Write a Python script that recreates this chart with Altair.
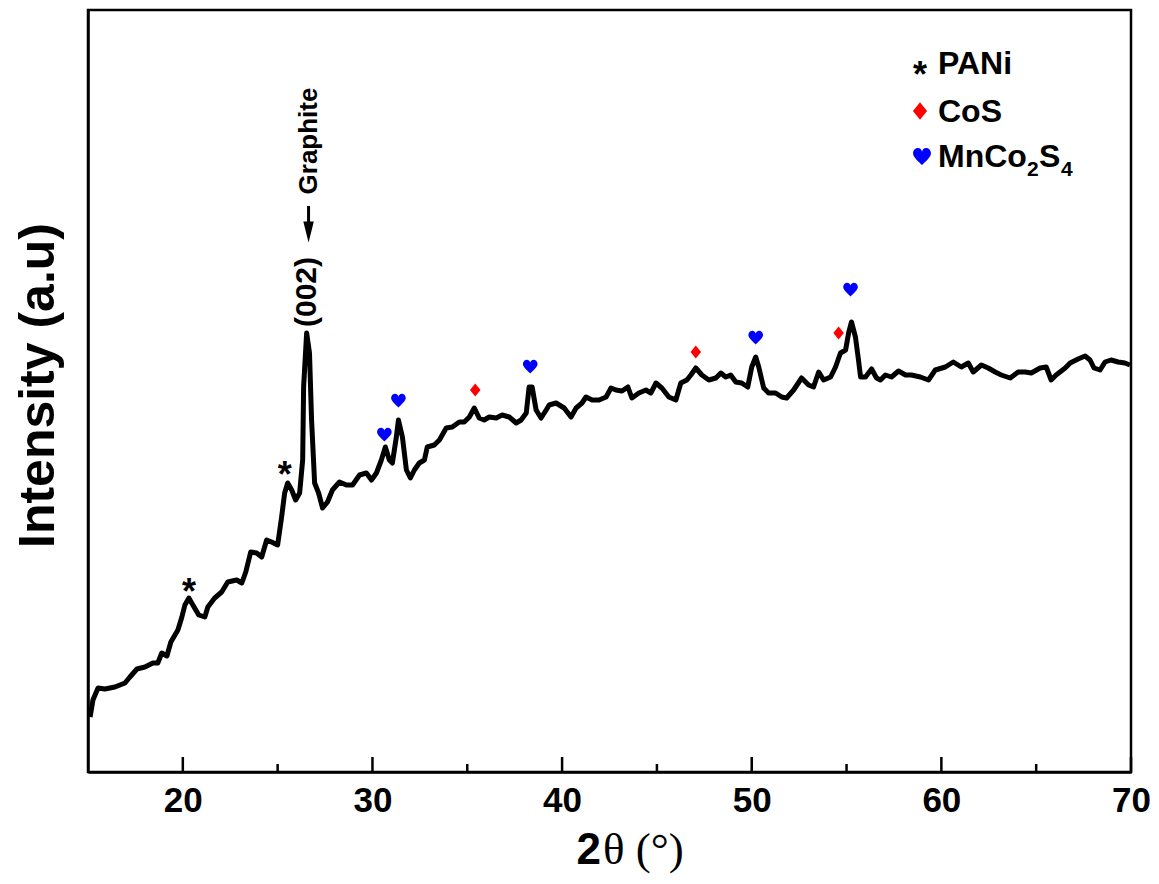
import altair as alt
import pandas as pd

# ---- XRD pattern (2theta in degrees, intensity in arbitrary units) ----
two_theta = [15.11, 15.26, 15.53, 15.89, 16.42, 16.95, 17.21, 17.58, 18.00, 18.42,
             18.68, 18.89, 19.16, 19.37, 19.74, 19.95, 20.11, 20.32, 20.53, 20.84,
             21.16, 21.32, 21.68, 22.05, 22.37, 22.84, 23.11, 23.32, 23.58, 23.89,
             24.16, 24.42, 24.68, 25.00, 25.21, 25.37, 25.53, 25.74, 25.95, 26.16,
             26.32, 26.37, 26.53, 26.68, 26.79, 26.95, 27.16, 27.37, 27.63, 27.89,
             28.26, 28.63, 28.95, 29.32, 29.68, 29.95, 30.21, 30.47, 30.68, 30.89,
             31.05, 31.26, 31.37, 31.58, 31.79, 32.00, 32.21, 32.47, 32.74, 32.89,
             33.26, 33.53, 33.89, 34.21, 34.58, 34.84, 35.11, 35.37, 35.63, 35.89,
             36.16, 36.53, 36.84, 37.21, 37.58, 37.84, 38.11, 38.26, 38.42, 38.63,
             38.89, 39.16, 39.32, 39.68, 40.11, 40.47, 40.74, 41.05, 41.26, 41.58,
             41.95, 42.32, 42.58, 42.84, 43.16, 43.47, 43.68, 44.05, 44.42, 44.68,
             44.95, 45.26, 45.63, 46.00, 46.26, 46.58, 46.79, 47.05, 47.37, 47.74,
             48.11, 48.37, 48.63, 48.89, 49.16, 49.47, 49.79, 50.00, 50.21, 50.37,
             50.63, 50.89, 51.26, 51.58, 51.84, 52.21, 52.63, 53.00, 53.26, 53.53,
             53.79, 54.16, 54.42, 54.68, 54.95, 55.11, 55.26, 55.47, 55.63, 55.74,
             56.00, 56.32, 56.58, 56.79, 57.05, 57.37, 57.74, 58.11, 58.42, 58.89,
             59.32, 59.68, 60.21, 60.63, 61.05, 61.42, 61.68, 62.11, 62.47, 62.84,
             63.16, 63.63, 64.05, 64.42, 64.74, 65.21, 65.53, 65.79, 66.05, 66.53,
             66.79, 67.21, 67.58, 67.84, 68.05, 68.37, 68.63, 68.95, 69.32, 69.68,
             69.95]
intensity = [55, 72, 84, 83, 85, 89, 95, 103, 105, 109,
             109, 119, 116, 130, 142, 155, 167, 174, 167, 157,
             155, 165, 174, 180, 190, 192, 189, 200, 220, 219,
             215, 232, 230, 227, 255, 279, 289, 282, 272, 279,
             312, 385, 439, 419, 352, 289, 279, 264, 270, 282,
             290, 287, 287, 297, 299, 292, 299, 312, 325, 312,
             309, 335, 352, 335, 302, 294, 302, 309, 312, 325,
             327, 332, 344, 345, 350, 350, 355, 364, 354, 352,
             355, 354, 357, 355, 349, 352, 359, 385, 385, 362,
             354, 362, 367, 369, 364, 355, 364, 369, 375, 372,
             372, 375, 384, 382, 381, 385, 374, 379, 382, 379,
             389, 384, 375, 372, 389, 392, 397, 404, 397, 392,
             394, 399, 395, 397, 390, 389, 385, 405, 415, 405,
             384, 379, 379, 375, 374, 382, 394, 387, 385, 400,
             392, 395, 405, 419, 422, 439, 450, 435, 412, 395,
             395, 403, 394, 392, 397, 395, 401, 397, 397, 395,
             392, 402, 405, 410, 405, 409, 400, 407, 404, 400,
             397, 394, 400, 400, 399, 404, 405, 392, 397, 404,
             409, 413, 416, 412, 404, 402, 410, 412, 410, 409,
             407]

# ---- phase markers ----
pani_theta = [20.32, 25.37]
pani_int = [188, 305]
cos_theta = [35.42, 47.05, 54.58]
cos_int = [382, 420, 439]
mnco_theta = [30.63, 31.37, 38.32, 50.21, 55.21]
mnco_int = [337, 371, 405, 434, 482]

major_ticks = [20, 30, 40, 50, 60, 70]
minor_ticks = [25, 35, 45, 55, 65]

graphite_theta = [26.63]

HEART = ("M0,0.9 C-0.3,0.55 -1,0.05 -1,-0.4 C-1,-0.8 -0.7,-1 -0.45,-1 "
         "C-0.2,-1 -0.05,-0.8 0,-0.6 C0.05,-0.8 0.2,-1 0.45,-1 "
         "C0.7,-1 1,-0.8 1,-0.4 C1,0.05 0.3,0.55 0,0.9 Z")
DIAMOND = "M0,-1 L0.8,0 L0,1 L-0.8,0 Z"
ARROW_HEAD = "M-0.5,-1 L0.5,-1 L0,1 Z"

W, H = 1043, 762
xscale = alt.Scale(domain=[15, 70], nice=False, zero=False)
yscale = alt.Scale(domain=[0, 762], nice=False, zero=False)

df = pd.DataFrame({"theta": two_theta, "intensity": intensity})

line = alt.Chart(df).mark_line(color="black", strokeWidth=5, strokeJoin="round").encode(
    x=alt.X("theta:Q", scale=xscale,
            axis=alt.Axis(values=major_ticks, format="d", title=None)),
    y=alt.Y("intensity:Q", scale=yscale,
            axis=alt.Axis(title="Intensity (a.u)")),
)

maj = alt.Chart(pd.DataFrame({"t": major_ticks})).mark_rule(color="black", strokeWidth=2.5).encode(
    x=alt.X("t:Q", scale=xscale), y=alt.value(H), y2=alt.value(H - 15))
mnr = alt.Chart(pd.DataFrame({"t": minor_ticks})).mark_rule(color="black", strokeWidth=2.5).encode(
    x=alt.X("t:Q", scale=xscale), y=alt.value(H), y2=alt.value(H - 8))

pani = alt.Chart(pd.DataFrame({"x": pani_theta, "y": pani_int, "s": ["*"] * len(pani_theta)})).mark_text(
    fontSize=36, fontWeight="bold", font="Liberation Sans", color="black", dy=9).encode(
    x=alt.X("x:Q", scale=xscale), y=alt.Y("y:Q", scale=yscale), text="s:N")

cos = alt.Chart(pd.DataFrame({"x": cos_theta, "y": cos_int})).mark_point(
    shape=DIAMOND, filled=True, color="#ff0000", opacity=1, size=175).encode(
    x=alt.X("x:Q", scale=xscale), y=alt.Y("y:Q", scale=yscale))

mnco = alt.Chart(pd.DataFrame({"x": mnco_theta, "y": mnco_int})).mark_point(
    shape=HEART, filled=True, color="#0000ff", opacity=1, size=215).encode(
    x=alt.X("x:Q", scale=xscale), y=alt.Y("y:Q", scale=yscale))

# graphite annotation
gdf = pd.DataFrame({"x": graphite_theta})
g_text = alt.Chart(gdf).mark_text(text="Graphite", angle=270, fontSize=26, fontWeight="bold",
                                  font="Liberation Sans", color="black", align="center",
                                  baseline="middle").encode(
    x=alt.X("x:Q", scale=xscale), y=alt.value(131))
g_shaft = alt.Chart(gdf).mark_rule(color="black", strokeWidth=3).encode(
    x=alt.X("x:Q", scale=xscale), y=alt.value(196), y2=alt.value(222))
g_head = alt.Chart(gdf).mark_point(shape=ARROW_HEAD, filled=True, color="black", opacity=1,
                                   size=440).encode(
    x=alt.X("x:Q", scale=xscale), y=alt.value(222))
g_002 = alt.Chart(pd.DataFrame({"x": [26.53]})).mark_text(
    text="(002)", angle=270, fontSize=30, fontWeight="bold", font="Liberation Sans",
    color="black", align="center", baseline="middle").encode(
    x=alt.X("x:Q", scale=xscale), y=alt.value(282))

# legend (top right)
leg_sym_x = 832
leg_txt_x = 850
leg_pani = alt.Chart(pd.DataFrame({"s": ["*"]})).mark_text(
    fontSize=36, fontWeight="bold", font="Liberation Sans", color="black", dy=9).encode(
    x=alt.value(leg_sym_x), y=alt.value(57), text="s:N")
leg_cos = alt.Chart(pd.DataFrame({"s": ["CoS"]})).mark_point(
    shape=DIAMOND, filled=True, color="#ff0000", opacity=1, size=310).encode(
    x=alt.value(leg_sym_x), y=alt.value(101))
leg_mnco = alt.Chart(pd.DataFrame({"s": ["MnCo2S4"]})).mark_point(
    shape=HEART, filled=True, color="#0000ff", opacity=1, size=320).encode(
    x=alt.value(leg_sym_x + 2), y=alt.value(147))

legend_text = pd.DataFrame({
    "t": ["PANi", "CoS", "MnCo", "S"],
    "px": [leg_txt_x, leg_txt_x, leg_txt_x, leg_txt_x + 101],
    "py": [54, 102, 147, 147],
})
leg_txt = alt.Chart(legend_text).mark_text(
    fontSize=32, fontWeight="bold", font="Liberation Sans", color="black",
    align="left", baseline="middle").encode(
    x=alt.X("px:Q", scale=None), y=alt.Y("py:Q", scale=None), text="t:N")
sub_text = pd.DataFrame({"t": ["2", "4"], "px": [leg_txt_x + 89, leg_txt_x + 123],
                         "py": [160, 160]})
leg_sub = alt.Chart(sub_text).mark_text(
    fontSize=21, fontWeight="bold", font="Liberation Sans", color="black",
    align="left", baseline="middle").encode(
    x=alt.X("px:Q", scale=None), y=alt.Y("py:Q", scale=None), text="t:N")

# x-axis title: "2" in bold sans, "θ (°)" in serif
xt1 = alt.Chart(pd.DataFrame({"t": ["2"]})).mark_text(
    fontSize=44, fontWeight="bold", font="Liberation Sans", color="black",
    align="right", baseline="alphabetic").encode(
    x=alt.value(513), y=alt.value(854), text="t:N")
xt2 = alt.Chart(pd.DataFrame({"t": ["θ (°)"]})).mark_text(
    fontSize=45, font="Liberation Serif", color="black",
    align="left", baseline="alphabetic").encode(
    x=alt.value(515), y=alt.value(854), text="t:N")

chart = alt.layer(
    line, maj, mnr, pani, cos, mnco, g_text, g_shaft, g_head, g_002,
    leg_pani, leg_cos, leg_mnco, leg_txt, leg_sub, xt1, xt2
).properties(
    width=W, height=H,
    autosize=alt.AutoSizeParams(type="none"),
    padding={"left": 80, "top": 2, "right": 20, "bottom": 104},
    background="white",
).configure_view(
    stroke="black", strokeWidth=2.5
).configure_axisX(
    labelFontSize=35, labelFontWeight="bold", labelColor="black", labelFont="Liberation Sans",
    ticks=False, labelPadding=11, labelFlush=False, domainColor="black", domainWidth=2.5,
    grid=False,
).configure_axisY(
    labels=False, ticks=False, grid=False, domainColor="black", domainWidth=2.5,
    titleFontSize=50, titleFontWeight="bold", titleFont="Liberation Sans", titleColor="black",
    titleAngle=270, titleX=-50, titleY=375, titleAlign="center", titleBaseline="middle",
)

chart.save("out.html", embed_options={"renderer": "svg", "actions": False})
